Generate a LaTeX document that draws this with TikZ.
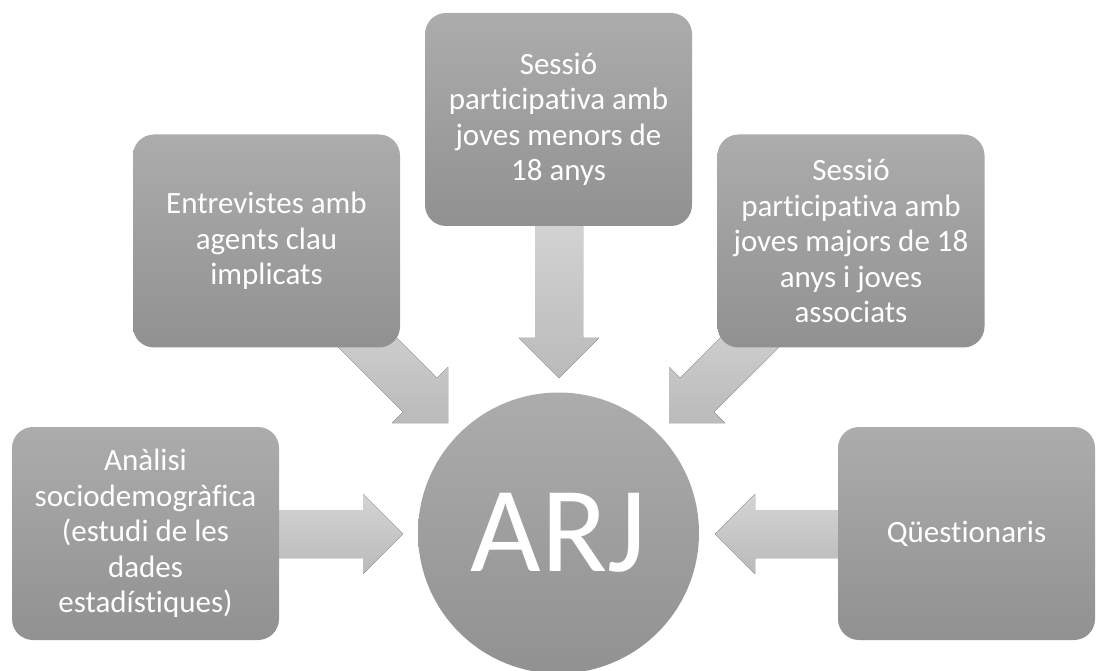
\documentclass[tikz,border=0pt]{standalone}
\usepackage{fontspec}
\setmainfont{Carlito}[Ligatures={NoCommon}]
\definecolor{boxtop}{RGB}{172,172,172}
\definecolor{boxbot}{RGB}{145,145,145}
\definecolor{arrtop}{RGB}{212,212,212}
\definecolor{arrbot}{RGB}{186,186,186}
\begin{document}
\begin{tikzpicture}[x=1pt,y=-1pt,
  boxnode/.style={rectangle, rounded corners=21pt, top color=boxtop, bottom color=boxbot,
    draw=none, minimum width=267pt, minimum height=213pt, inner sep=0pt,
    text=white, align=center, font=\fontsize{31}{35.5}\selectfont},
  hubnode/.style={circle, top color=boxtop, bottom color=boxbot, draw=none,
    minimum size=281pt, inner sep=0pt, text=white, font=\fontsize{122}{130}\selectfont},
  blockarrow/.style={top color=arrtop, bottom color=arrbot, draw=none}]
\useasboundingbox (0,0) rectangle (1096,671);
% block arrows
\fill[blockarrow] (270,510) -- (363,510) -- (363,494) -- (403,534) -- (363,574) -- (363,558) -- (270,558) -- cycle;
\fill[blockarrow] (847,510) -- (755,510) -- (755,494) -- (715,534) -- (755,574) -- (755,558) -- (847,558) -- cycle;
\fill[blockarrow] (535,215) -- (535,338) -- (519,338) -- (559,378) -- (599,338) -- (583,338) -- (583,215) -- cycle;
\fill[blockarrow] (362,303) -- (437,378) -- (448,367) -- (448,423) -- (392,423) -- (403,412) -- (328,337) -- cycle;
\fill[blockarrow] (755,303) -- (680,378) -- (669,367) -- (669,423) -- (725,423) -- (714,412) -- (789,337) -- cycle;
% boxes
\node[boxnode] (analisi) at (145.5,533.5) {Anàlisi\\sociodemogràfica\\(estudi de les\\dades\\estadístiques)};
\node[boxnode] (entrevistes) at (266.5,241) {Entrevistes amb\\agents clau\\implicats};
\node[boxnode] (menors) at (558.5,119.5) {Sessió\\participativa amb\\joves menors de\\18 anys};
\node[boxnode] (majors) at (851,241) {Sessió\\participativa amb\\joves majors de 18\\anys i joves\\associats};
\node[boxnode, minimum width=257pt] (questionaris) at (966.5,533.5) {Qüestionaris};
\node[hubnode] (arj) at (558.5,533) {ARJ};
\end{tikzpicture}
\end{document}
